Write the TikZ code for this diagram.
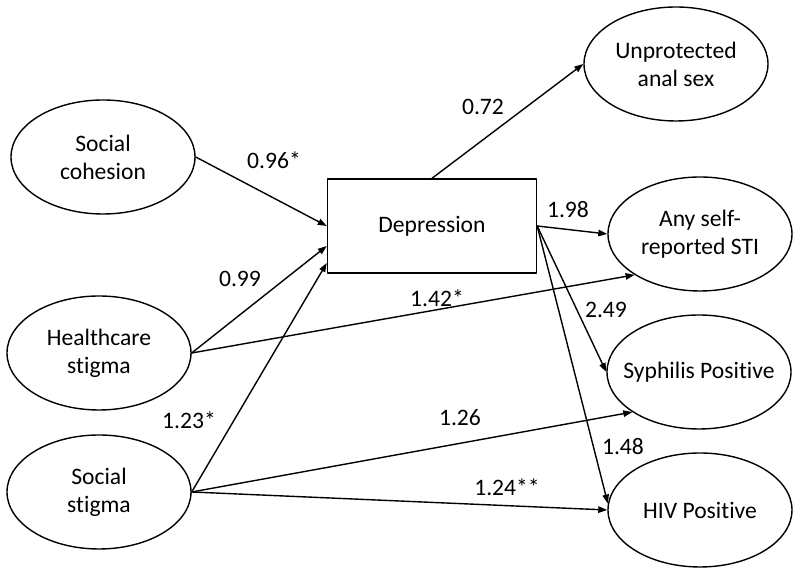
\documentclass[tikz,border=0pt]{standalone}
\usepackage{fontspec}
\setmainfont[Ligatures=NoCommon]{Carlito}
\usepackage{tikz}
\usetikzlibrary{arrows.meta}
\usetikzlibrary{shapes.geometric}

\begin{document}
\begin{tikzpicture}[line cap=round,line join=round,>={Triangle[length=4.5pt,width=3.2pt]},x=0.5pt,y=-0.5pt,
      font=\fontsize{11.8}{14}\selectfont,line width=0.7pt,
      latent/.style={draw,ellipse,minimum width=92pt,minimum height=57pt,inner xsep=-7pt,inner ysep=0pt,align=center},
      observed/.style={draw,rectangle,minimum width=104.5pt,minimum height=47pt},
      coef/.style={inner sep=0pt}]
      \useasboundingbox (0,0) rectangle (800,576);
      % latent variables
      \node[latent] (sc) at (103,157) {Social\\cohesion};
      \node[latent] (hs) at (99,353) {Healthcare\\stigma};
      \node[latent] (ss) at (99,492) {Social\\stigma};
      \node[observed] (dep) at (432,226) {Depression};
      \node[latent] (uas) at (676,64) {Unprotected\\anal sex};
      \node[latent] (sti) at (700,234) {Any self-\\reported STI};
      \node[latent] (syph) at (699,372) {Syphilis Positive};
      \node[latent] (hiv) at (700,510) {HIV Positive};
      % paths
      \draw[->] (sc.east) -- (dep.west);
      \draw[->] (hs.east) -- ([yshift=-10pt]dep.west);
      \draw[->] (ss.east) -- ([yshift=-18.5pt]dep.west);
      \draw[->] (hs.east) -- (sti.212);
      \draw[->] (ss.east) -- (syph.211);
      \draw[->] (ss.east) -- (hiv.west);
      \draw[->] (dep.north) -- (uas.west);
      \draw[->] (dep.east) -- (sti.west);
      \draw[->] (dep.east) -- (syph.west);
      \draw[->] (dep.east) -- (hiv.176);
      % coefficients
      \node[coef] (c096) at (274,160) {0.96*};
      \node[coef] (c099) at (240,279) {0.99};
      \node[coef] (c123) at (189,420) {1.23*};
      \node[coef] (c072) at (483,107) {0.72};
      \node[coef] (c198) at (568,210) {1.98};
      \node[coef] (c142) at (437,298) {1.42*};
      \node[coef] (c249) at (606,310) {2.49};
      \node[coef] (c126) at (460,418) {1.26};
      \node[coef] (c148) at (623,447) {1.48};
      \node[coef] (c124) at (507,487) {1.24**};
\end{tikzpicture}
\end{document}
